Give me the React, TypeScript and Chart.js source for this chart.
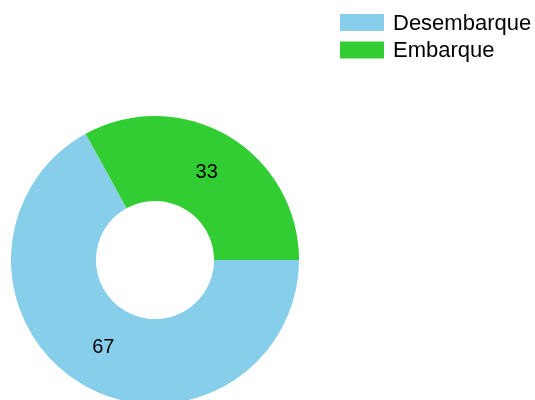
import React, { useEffect, useRef } from "react";
import { Chart, registerables } from "chart.js";

Chart.register(...registerables);

const categories = ["Desembarque", "Embarque"];
const values = [67, 33];
const colors = ["#87CEEB", "#32CD32"];

const FONT = "'Liberation Sans', Arial, sans-serif";

const sliceLabels = {
  id: "sliceLabels",
  afterDatasetsDraw(chart: any) {
    const ctx = chart.ctx;
    const meta = chart.getDatasetMeta(0);
    ctx.save();
    ctx.font = `20px ${FONT}`;
    ctx.fillStyle = "#000";
    ctx.textAlign = "center";
    ctx.textBaseline = "middle";
    meta.data.forEach((arc: any, i: number) => {
      const { x, y, startAngle, endAngle, innerRadius, outerRadius } = arc.getProps(
        ["x", "y", "startAngle", "endAngle", "innerRadius", "outerRadius"],
        true
      );
      const mid = (startAngle + endAngle) / 2;
      const r = (innerRadius + outerRadius) / 2;
      ctx.fillText(String(chart.data.datasets[0].data[i]), x + Math.cos(mid) * r, y + Math.sin(mid) * r);
    });
    ctx.restore();
  },
};

const customLegend = {
  id: "customLegend",
  afterDraw(chart: any) {
    const ctx = chart.ctx;
    const labels = chart.data.labels as string[];
    const bg = chart.data.datasets[0].backgroundColor as string[];
    ctx.save();
    ctx.font = `22px ${FONT}`;
    ctx.textAlign = "left";
    ctx.textBaseline = "middle";
    labels.forEach((lab, i) => {
      const top = 14 + i * 27.5;
      ctx.fillStyle = bg[i];
      ctx.fillRect(340, top, 44, 17);
      ctx.fillStyle = "#000";
      ctx.fillText(lab, 393, top + 9.5);
    });
    ctx.restore();
  },
};

export default function App() {
  const ref = useRef<HTMLCanvasElement | null>(null);
  useEffect(() => {
    if (!ref.current) return;
    const chart = new Chart(ref.current, {
      type: "doughnut",
      data: {
        labels: categories,
        datasets: [
          {
            data: values,
            backgroundColor: colors,
            borderWidth: 0,
          },
        ],
      },
      options: {
        animation: false,
        responsive: false,
        rotation: 90,
        cutout: "41%",
        layout: { padding: { left: 11, right: 236, top: 116, bottom: 16 } },
        plugins: {
          legend: { display: false },
          tooltip: { enabled: false },
        },
      },
      plugins: [sliceLabels, customLegend],
    });
    return () => chart.destroy();
  }, []);
  return (
    <div style={{ position: "absolute", left: 0, top: 0, width: 535, height: 420, background: "#fff" }}>
      <canvas ref={ref} width={535} height={420} style={{ width: 535, height: 420 }} />
    </div>
  );
}
